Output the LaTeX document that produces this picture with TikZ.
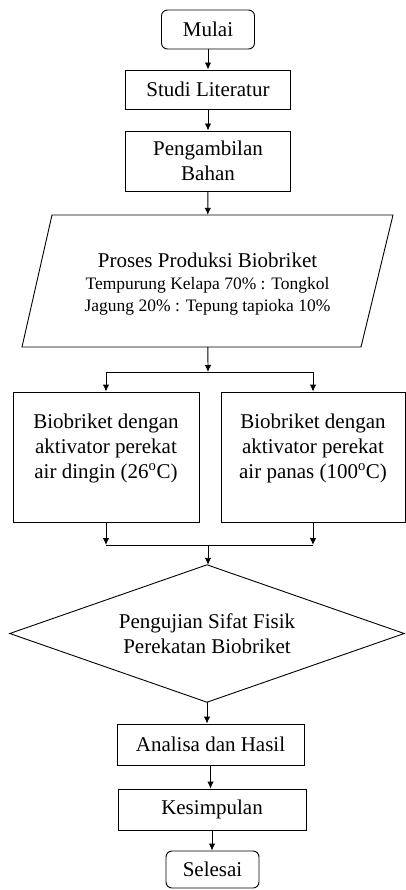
\documentclass[tikz,border=0pt]{standalone}
\usepackage{fontspec}
\setmainfont{Liberation Serif}
\usetikzlibrary{arrows.meta}
\tikzset{
  base/.style={draw, line width=0.9pt, inner sep=0pt, align=center, font=\fontsize{21}{25}\selectfont},
  term/.style={base, rounded corners=6pt, minimum width=93pt, minimum height=39pt},
  stepbox/.style={base, minimum width=165pt},
  bigbox/.style={base, minimum height=130pt},
  arr/.style={line width=0.9pt, -{Latex[length=7pt,width=6.5pt]}},
  ln/.style={line width=0.9pt},
  boxtext/.style={font=\fontsize{21}{25}\selectfont, align=center, yshift=9pt},
}
\begin{document}
\begin{tikzpicture}[x=1pt,y=-1pt]
\useasboundingbox (0,0) rectangle (406,890);
\node[term] (mulai) at (208,29.5) {Mulai};
\node[stepbox, minimum height=39pt] (studi) at (208,89.5) {Studi Literatur};
\node[stepbox, minimum height=60pt] (ambil) at (208,161) {Pengambilan\\Bahan};
% Proses (parallelogram)
\node[inner sep=0pt, minimum width=310pt, minimum height=132pt] (proses) at (207.5,281) {};
\draw[ln] (52,215) -- (393,215) -- (361,347) -- (22,347) -- cycle;
\node[align=center, inner sep=0pt, font=\fontsize{17.5}{22}\selectfont] (prosestext) at (207.5,284)
  {{\fontsize{21}{22}\selectfont Proses Produksi Biobriket}\\
   Tempurung Kelapa 70\% : Tongkol\\
   Jagung 20\% : Tepung tapioka 10\%};
\node[bigbox, minimum width=186pt, label={[boxtext]center:Biobriket dengan\\aktivator perekat\\air dingin (26\textsuperscript{o}C)}] (dingin) at (106,457) {};
\node[bigbox, minimum width=184pt, label={[boxtext]center:Biobriket dengan\\aktivator perekat\\air panas (100\textsuperscript{o}C)}] (panas) at (313,457) {};
% Pengujian (diamond)
\node[inner sep=0pt, minimum width=394pt, minimum height=137pt, align=center, font=\fontsize{21}{25}\selectfont] (uji) at (207,633.5) {Pengujian Sifat Fisik\\Perekatan Biobriket};
\draw[ln] (uji.north) -- (uji.east) -- (uji.south) -- (uji.west) -- cycle;
\node[base, minimum width=187pt, minimum height=41pt] (analisa) at (210.5,744.5) {Analisa dan Hasil};
\node[base, minimum width=188pt, minimum height=41pt] (simpul) at (212,809.5) {Kesimpulan};
\node[term, minimum height=37pt] (selesai) at (212.5,869.5) {Selesai};
\coordinate (j1) at (208,372);
\coordinate (j2) at (208,545);
\draw[arr] (mulai) -- (studi);
\draw[arr] (studi) -- (ambil);
\draw[arr] (ambil) -- (proses);
\draw[arr] (proses) -- (j1);
\draw[ln] (j1 -| dingin) -- (j1 -| panas);
\draw[arr] (j1 -| dingin) -- (dingin);
\draw[arr] (j1 -| panas) -- (panas);
\draw[arr] (dingin) -- (dingin |- j2);
\draw[arr] (panas) -- (panas |- j2);
\draw[ln] (dingin |- j2) -- (panas |- j2);
\draw[arr] (j2) -- (j2 |- uji.north);
\draw[arr] (uji.south) -- (uji.south |- analisa.north);
\draw[arr] (analisa.south) -- (analisa.south |- simpul.north);
\draw[arr] (simpul.south) -- (simpul.south |- selesai.north);
\end{tikzpicture}
\end{document}
